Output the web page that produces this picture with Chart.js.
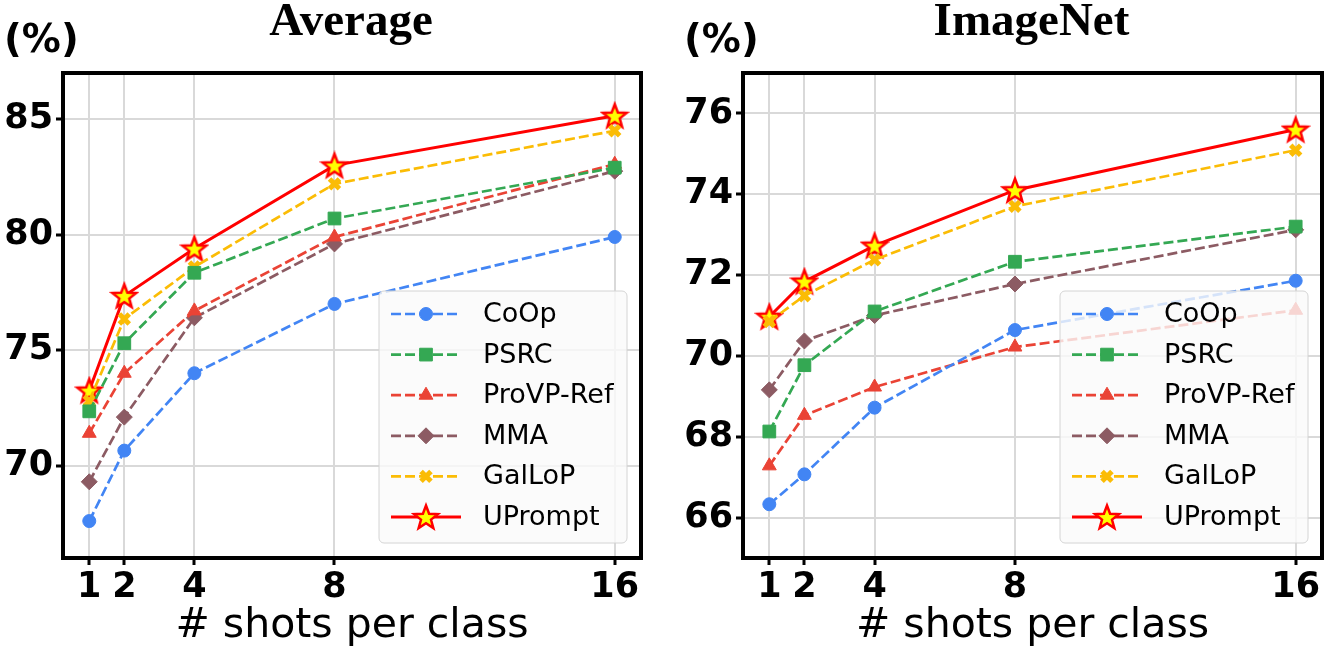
<!DOCTYPE html>
<html>
<head>
<meta charset="utf-8">
<script src="https://cdn.jsdelivr.net/npm/chart.js@4.4.1/dist/chart.umd.min.js"></script>
<style>
  body { margin: 0; background: #fff; overflow: hidden; }
  #wrap { position: relative; width: 1327px; height: 653px; overflow: hidden; }
  #wrap canvas { position: absolute; top: 0; }
</style>
</head>
<body>
<div id="wrap">
  <canvas id="chart-avg" width="663" height="653" style="left:0px"></canvas>
  <canvas id="chart-imnet" width="686" height="653" style="left:650px"></canvas>
</div>
<script>
// shots per class (x values) and tick labels
var shots = [1, 2, 4, 8, 16];
var methods = ["CoOp", "PSRC", "ProVP-Ref", "MMA", "GalLoP", "UPrompt"];
var avgTicks = [70, 75, 80, 85];
var imnetTicks = [66, 68, 70, 72, 74, 76];

// Average
var avgCoOp    = [67.6, 70.65, 74.0, 77.0, 79.9];
var avgPSRC    = [72.35, 75.3, 78.35, 80.7, 82.9];
var avgProVP   = [71.4, 74.0, 76.7, 79.9, 83.05];
var avgMMA     = [69.3, 72.1, 76.4, 79.6, 82.75];
var avgGalLoP  = [72.8, 76.35, 78.6, 82.2, 84.5];
var avgUPrompt = [73.25, 77.35, 79.4, 83.0, 85.15];

// ImageNet
var inCoOp    = [66.33, 67.07, 68.72, 70.64, 71.86];
var inPSRC    = [68.13, 69.77, 71.1, 72.33, 73.2];
var inProVP   = [67.28, 68.53, 69.23, 70.22, 71.13];
var inMMA     = [69.16, 70.37, 71.0, 71.78, 73.12];
var inGalLoP  = [70.85, 71.49, 72.38, 73.7, 75.09];
var inUPrompt = [70.97, 71.84, 72.73, 74.1, 75.6];

// star marker (yellow with red edge), chart.js "star" is only strokes
function makeStar(size, lw) {
  var c = document.createElement("canvas");
  c.width = size; c.height = size;
  var g = c.getContext("2d");
  var R = size / 2 - lw, r = R * 0.42, cx = size / 2, cy = size / 2 + 1;
  g.beginPath();
  for (var i = 0; i < 10; i++) {
    var ang = -Math.PI / 2 + i * Math.PI / 5;
    var rr = (i % 2) ? r : R;
    g.lineTo(cx + rr * Math.cos(ang), cy + rr * Math.sin(ang));
  }
  g.closePath();
  g.fillStyle = "#ffff00";
  g.fill();
  g.lineWidth = lw;
  g.strokeStyle = "#ff0000";
  g.stroke();
  return c;
}
var starImg = makeStar(30, 2.5);

var styles = [
  { color: "#4285F4", point: "circle",   radius: 6.5, pbw: 1, dash: [10, 4] },
  { color: "#34A853", point: "rect",     radius: 9,   pbw: 1, dash: [10, 4] },
  { color: "#EA4335", point: "triangle", radius: 8,   pbw: 1, dash: [10, 4] },
  { color: "#8C5B63", point: "rectRot",  radius: 8,   pbw: 1, dash: [10, 4] },
  { color: "#FBBC05", point: "crossRot", radius: 7,   pbw: 5, dash: [10, 4] },
  { color: "#FF0000", point: starImg,    radius: 13,  pbw: 0, dash: [] }
];

function makeDatasets(series) {
  return series.map(function (vals, i) {
    var s = styles[i];
    return {
      label: methods[i],
      data: shots.map(function (x, j) { return { x: x, y: vals[j] }; }),
      borderColor: s.color,
      backgroundColor: s.color,
      borderWidth: i == 5 ? 3 : 2.7,
      borderDash: s.dash,
      pointStyle: s.point,
      pointRadius: s.radius,
      pointHoverRadius: s.radius,
      pointBorderWidth: s.pbw,
      pointBackgroundColor: s.color,
      pointBorderColor: s.color,
      tension: 0
    };
  });
}

// title, (%), legend box and frame
var decorPlugin = {
  id: "decor",
  afterDatasetsDraw: function (chart) {
    var ctx = chart.ctx, a = chart.chartArea;
    var w = 248, h = 252;
    var x0 = a.right - 14 - w, y0 = a.bottom - 15 - h;
    ctx.save();
    ctx.beginPath();
    ctx.roundRect(x0, y0, w, h, 5);
    ctx.fillStyle = "rgba(250,250,250,0.8)";
    ctx.fill();
    ctx.lineWidth = 1;
    ctx.strokeStyle = "#d4d4d4";
    ctx.stroke();
    chart.data.datasets.forEach(function (ds, i) {
      var y = y0 + 23 + i * 40.6;
      ctx.strokeStyle = ds.borderColor;
      ctx.lineWidth = ds.borderWidth;
      ctx.setLineDash(ds.borderDash);
      ctx.beginPath();
      ctx.moveTo(x0 + 12, y);
      ctx.lineTo(x0 + 82, y);
      ctx.stroke();
      ctx.setLineDash([]);
      ctx.fillStyle = ds.pointBackgroundColor;
      ctx.strokeStyle = ds.pointBorderColor;
      ctx.lineWidth = ds.pointBorderWidth;
      var r = ds.pointStyle === starImg ? 12 : ds.pointRadius;
      Chart.helpers.drawPoint(ctx, { pointStyle: ds.pointStyle, radius: r, borderWidth: ds.pointBorderWidth, rotation: 0 }, x0 + 47, y);
      ctx.fillStyle = "#000";
      ctx.font = '27px "DejaVu Sans"';
      ctx.textAlign = "left";
      ctx.textBaseline = "middle";
      ctx.fillText(ds.label, x0 + 104, y + 1);
    });
    ctx.restore();
  },
  afterDraw: function (chart) {
    var ctx = chart.ctx, a = chart.chartArea;
    ctx.save();
    ctx.lineWidth = 4;
    ctx.strokeStyle = "#000";
    ctx.strokeRect(a.left, a.top, a.right - a.left, a.bottom - a.top);
    ctx.fillStyle = "#000";
    ctx.textBaseline = "alphabetic";
    ctx.textAlign = "center";
    ctx.font = 'bold 47px "Liberation Serif"';
    ctx.fillText(chart.options.plugins.decor.title, (a.left + a.right) / 2 - 1, 35);
    ctx.textAlign = "left";
    ctx.font = 'bold 39px "DejaVu Sans"';
    ctx.fillText("(%)", a.left - 59, 52);
    ctx.restore();
  }
};

function drawPanel(id, title, series, ymin, ymax, yticks, yAxisWidth, padRight) {
  var ctx = document.getElementById(id);
  var tickFont = { family: "DejaVu Sans", size: 35, weight: "bold" };
  return new Chart(ctx, {
    type: "line",
    data: { datasets: makeDatasets(series) },
    options: {
      responsive: false,
      animation: false,
      layout: { padding: { top: 73, right: padRight, bottom: 0, left: 0 } },
      plugins: {
        legend: { display: false },
        tooltip: { enabled: false },
        decor: { title: title }
      },
      scales: {
        x: {
          type: "linear",
          min: 0.25,
          max: 16.75,
          afterBuildTicks: function (scale) {
            scale.ticks = shots.map(function (v) { return { value: v }; });
          },
          afterFit: function (scale) {
            scale.height = 95;
            scale.paddingLeft = 0;
            scale.paddingRight = 0;
          },
          grid: { color: "#d9d9d9", lineWidth: 2, tickLength: 7, tickColor: "#000", tickWidth: 3 },
          border: { display: false },
          ticks: { font: tickFont, color: "#000", padding: 2, maxRotation: 0, autoSkip: false },
          title: {
            display: true,
            text: "# shots per class",
            color: "#000",
            font: { family: "DejaVu Sans", size: 41 },
            padding: { top: 0, bottom: 2 }
          }
        },
        y: {
          min: ymin,
          max: ymax,
          afterBuildTicks: function (scale) {
            scale.ticks = yticks.map(function (v) { return { value: v }; });
          },
          afterFit: function (scale) { scale.width = yAxisWidth; },
          grid: { color: "#d9d9d9", lineWidth: 2, tickLength: 7, tickColor: "#000", tickWidth: 3 },
          border: { display: false },
          ticks: { font: tickFont, color: "#000", padding: 3 }
        }
      }
    },
    plugins: [decorPlugin]
  });
}

// the point overflow needs ~13px padding on the right, so the second
// canvas runs a little past the page edge (hidden)
drawPanel("chart-avg", "Average",
  [avgCoOp, avgPSRC, avgProVP, avgMMA, avgGalLoP, avgUPrompt],
  66, 87, avgTicks, 63, 22);
drawPanel("chart-imnet", "ImageNet",
  [inCoOp, inPSRC, inProVP, inMMA, inGalLoP, inUPrompt],
  65, 77, imnetTicks, 93, 14);
</script>
</body>
</html>
